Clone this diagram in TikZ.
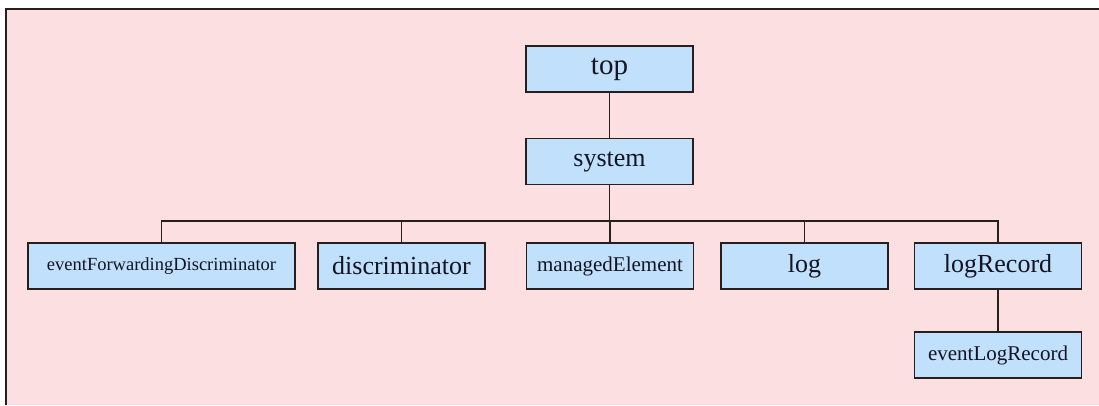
\documentclass[tikz,border=0pt]{standalone}
\usepackage{fontspec}
\setmainfont{Liberation Serif}
\definecolor{bgpink}{RGB}{252,224,225}
\definecolor{boxblue}{RGB}{192,224,252}
\definecolor{edge}{RGB}{40,30,30}
\definecolor{txt}{RGB}{20,20,35}
\tikzset{
  cls/.style={draw=edge, line width=1.7pt, fill=boxblue, minimum width=167pt,
    minimum height=46pt, inner sep=0pt, text=txt, font=\fontsize{26}{28}\selectfont},
  bigtxt/.style={font=\fontsize{29}{31}\selectfont},
  smalltxt/.style={font=\fontsize{21}{23}\selectfont},
  tinytxt/.style={font=\fontsize{18.5}{20}\selectfont},
  link/.style={draw=edge, line width=1.8pt}
}
\begin{document}
\begin{tikzpicture}[x=1pt,y=-1pt]
\useasboundingbox (0,0) rectangle (1099,405);
\fill[white] (0,0) rectangle (1099,405);
\fill[bgpink] (6,9) rectangle (1099,405);
\draw[edge, line width=1.8pt] (6,405) -- (6,9) -- (1099,9);
\coordinate (bus) at (609.5,221);
\node[cls, bigtxt] (top) at (609.5,69) {top};
\node[cls] (system) at (609.5,161.5) {system};
\node[cls, tinytxt, minimum width=267pt] (efd) at (161.5,266) {eventForwardingDiscriminator};
\node[cls] (disc) at (401.5,266) {discriminator};
\node[cls, smalltxt] (me) at (610,266) {managedElement};
\node[cls] (log) at (804.5,266) {log};
\node[cls] (lr) at (998,266) {logRecord};
\node[cls, smalltxt] (elr) at (998,355) {eventLogRecord};
\draw[link] (top) -- (system);
\draw[link] (system) -- (bus);
\foreach \c in {efd,disc,me,log,lr} \draw[link] (\c.north) |- (bus);
\draw[link] (lr) -- (elr);
\end{tikzpicture}
\end{document}
